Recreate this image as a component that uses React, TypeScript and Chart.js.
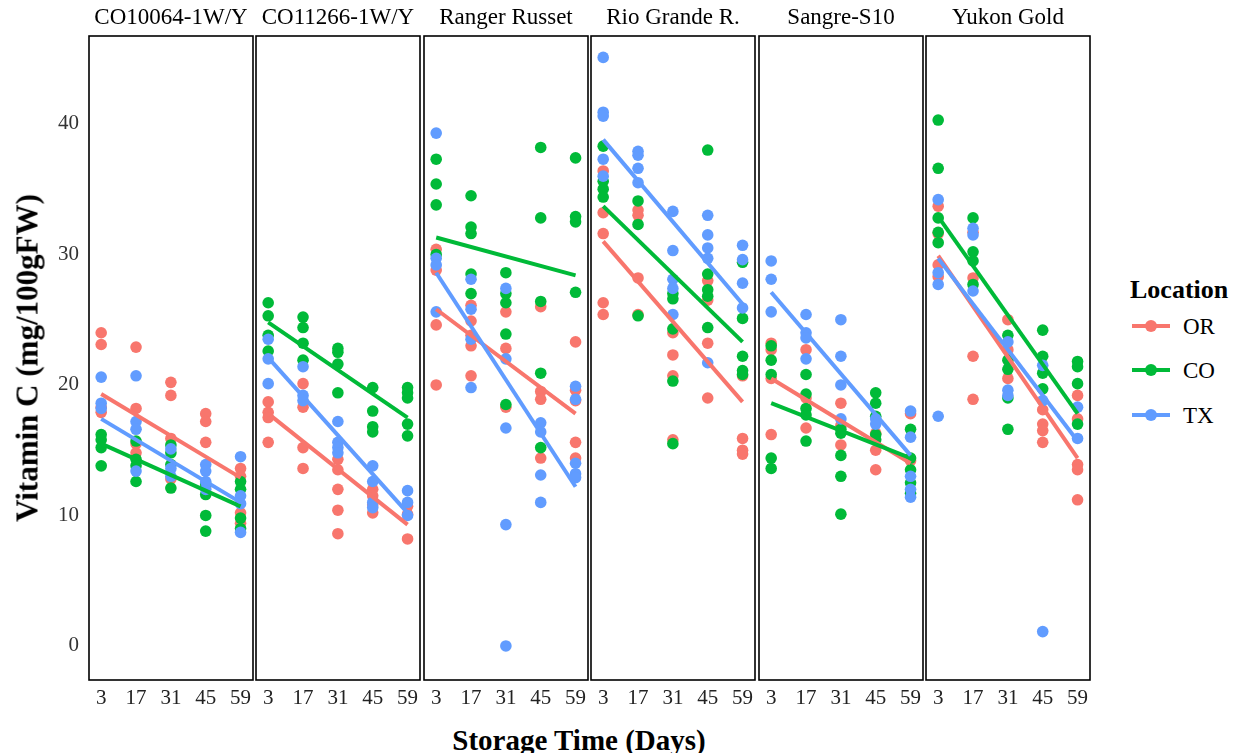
import React, { useEffect, useRef } from "react";
import { Chart, registerables } from "chart.js";

Chart.register(...registerables);

const DAYS = [3, 17, 31, 45, 59];
const LOCATIONS = ["OR", "CO", "TX"];
const COLORS = ["#F8766D", "#00BA38", "#619CFF"];
const VARIETIES = ["CO10064-1W/Y", "CO11266-1W/Y", "Ranger Russet", "Rio Grande R.", "Sangre-S10", "Yukon Gold"];
const Y_TICKS = [0, 10, 20, 30, 40];
const Y_TITLE = "Vitamin C (mg/100gFW)";
const X_TITLE = "Storage Time (Days)";
const LEGEND_TITLE = "Location";

// values per storage day (3, 17, 31, 45, 59)
const co10064OR = [[24.0, 23.1, 18.3, 17.9], [22.9, 18.2, 15.5, 14.8], [20.2, 19.2, 15.9, 12.8], [17.8, 17.2, 15.6, 12.2], [13.6, 13.0, 10.2, 9.4]];
const co10064CO = [[16.2, 15.8, 15.2, 13.8], [15.7, 14.3, 13.8, 12.6], [15.4, 14.8, 13.9, 12.1], [12.4, 11.6, 10.0, 8.8], [12.6, 12.0, 9.8, 9.0]];
const co10064TX = [[20.6, 18.6, 18.2], [20.7, 17.2, 16.6, 13.4], [15.1, 13.6, 13.0], [13.9, 13.4, 12.6, 12.0], [14.5, 11.5, 10.9, 8.7]];

const co11266OR = [[18.7, 17.9, 17.5, 15.6], [20.1, 18.3, 15.2, 13.6], [14.3, 13.5, 12.0, 10.4, 8.6], [12.0, 11.5, 10.8, 10.2], [10.7, 10.1, 8.2]];
const co11266CO = [[26.3, 25.3, 23.8, 22.6], [25.2, 24.4, 23.2, 21.9], [22.8, 22.5, 21.6, 19.4], [19.8, 18.0, 16.8, 16.4], [19.8, 19.4, 19.0, 17.0, 16.1]];
const co11266TX = [[23.5, 22.0, 20.1], [21.4, 19.2, 18.8], [17.2, 15.6, 15.2, 14.8], [13.8, 12.6, 11.0, 10.6], [11.9, 11.0, 10.0]];

const rangerOR = [[30.4, 28.8, 24.6, 20.0], [26.1, 24.9, 23.8, 23.0, 20.7], [25.6, 22.8, 18.3], [26.0, 19.5, 18.9, 14.4], [23.3, 19.6, 18.8, 15.6, 14.4]];
const rangerCO = [[37.3, 35.4, 33.8, 30.0], [34.5, 32.1, 31.6, 28.5, 27.0], [28.6, 27.0, 26.3, 23.9, 18.5], [38.2, 32.8, 26.4, 20.9, 15.2], [37.4, 32.9, 32.5, 27.1]];
const rangerTX = [[39.3, 29.7, 29.2, 25.6], [28.1, 25.8, 23.5, 19.8], [27.4, 22.0, 16.7, 9.3, 0.0], [17.1, 16.4, 13.1, 11.0], [19.9, 18.9, 14.0, 13.2, 12.9]];

const rioOR = [[36.4, 33.2, 31.6, 26.3, 25.4], [33.4, 33.0, 28.2, 25.4], [24.0, 22.3, 20.7, 15.8], [28.0, 26.5, 23.2, 19.0], [20.7, 15.9, 15.0, 14.7]];
const rioCO = [[38.3, 35.6, 35.0, 34.4], [34.1, 32.3, 25.3], [27.0, 26.6, 24.3, 20.3, 15.5], [38.0, 28.5, 27.3, 26.8, 24.4], [29.4, 25.1, 22.2, 21.1, 20.8]];
const rioTX = [[45.1, 40.9, 40.6, 37.3, 36.0], [37.9, 37.6, 36.6, 35.5], [33.3, 30.3, 28.1, 27.4, 25.4], [33.0, 31.5, 30.5, 29.7, 21.7], [30.7, 29.6, 27.8, 25.9]];

const sangreOR = [[23.2, 22.7, 20.5, 16.2], [22.7, 19.0, 16.7], [18.6, 16.9, 15.4], [16.3, 15.0, 13.5], [17.8, 14.2]];
const sangreCO = [[23.0, 21.9, 20.8, 14.4, 13.6], [20.8, 19.3, 18.2, 17.7, 15.7], [16.6, 16.3, 14.6, 13.0, 10.1], [19.4, 18.6, 17.6, 16.2, 15.8], [16.6, 14.4, 13.5, 12.5, 11.7]];
const sangreTX = [[29.5, 28.1, 25.6], [25.4, 24.0, 23.6, 22.0], [25.0, 22.2, 20.0, 17.4], [17.4, 17.0], [18.0, 16.0, 13.0, 12.0, 11.4]];

const yukonOR = [[33.7, 31.6, 29.2, 28.3], [31.7, 28.2, 22.2, 18.9], [25.0, 22.7, 20.5], [18.1, 17.0, 16.5, 15.6], [19.2, 17.4, 13.9, 13.5, 11.2]];
const yukonCO = [[40.3, 36.6, 32.8, 31.7, 30.9], [32.8, 30.2, 29.5, 27.7], [23.8, 21.9, 21.2, 19.0, 16.6], [24.2, 22.2, 20.9, 19.7], [21.8, 21.4, 20.1, 17.0]];
const yukonTX = [[34.2, 28.6, 27.7, 17.6], [32.0, 31.5, 27.2], [23.3, 19.6, 19.2], [21.5, 18.8, 1.1], [18.3, 15.9]];

// fitted line values at day 3 and day 59, order OR, CO, TX
const co10064Fit = [[19.3, 12.9], [15.5, 10.7], [17.4, 11.0]];
const co11266Fit = [[17.8, 9.3], [24.8, 17.5], [22.1, 10.2]];
const rangerFit = [[25.8, 17.8], [31.3, 28.4], [28.6, 12.2]];
const rioFit = [[31.0, 18.7], [33.7, 23.3], [38.8, 26.2]];
const sangreFit = [[20.5, 14.0], [18.6, 14.4], [27.1, 14.6]];
const yukonFit = [[29.9, 14.4], [32.9, 17.8], [29.7, 15.7]];

const POINTS = [
  [co10064OR, co10064CO, co10064TX],
  [co11266OR, co11266CO, co11266TX],
  [rangerOR, rangerCO, rangerTX],
  [rioOR, rioCO, rioTX],
  [sangreOR, sangreCO, sangreTX],
  [yukonOR, yukonCO, yukonTX],
];
const FITS = [co10064Fit, co11266Fit, rangerFit, rioFit, sangreFit, yukonFit];

const FONT = '"Liberation Serif", "Times New Roman", serif';
const PANEL_LEFT0 = 89;
const PANEL_STEP = 167.4;
const PANEL_W = 164;
const CANVAS_H = 720;
const Y_MIN = -2.61;
const Y_MAX = 46.74;

const panelDeco = {
  id: "panelDeco",
  afterDatasetsDraw(chart: any, _args: any, opts: any) {
    const { ctx, chartArea: a } = chart;
    ctx.save();
    ctx.strokeStyle = "#000";
    ctx.lineWidth = 1.6;
    ctx.strokeRect(a.left, a.top, a.right - a.left, a.bottom - a.top);
    ctx.fillStyle = "#000";
    ctx.font = `23px ${FONT}`;
    ctx.textAlign = "center";
    ctx.textBaseline = "middle";
    ctx.fillText(opts.label, (a.left + a.right) / 2, 18);
    ctx.restore();
  },
};

function Panel({ index }: { index: number }) {
  const ref = useRef<HTMLCanvasElement | null>(null);
  const first = index === 0;
  const panelLeft = PANEL_LEFT0 + index * PANEL_STEP;
  const canvasLeft = first ? 0 : panelLeft - 3;
  const canvasW = first ? PANEL_LEFT0 + PANEL_W + 3 : PANEL_W + 6;

  useEffect(() => {
    if (!ref.current) return;
    const datasets: any[] = [];
    LOCATIONS.forEach((loc, li) => {
      const pts: { x: number; y: number }[] = [];
      POINTS[index][li].forEach((vals, di) => vals.forEach((v) => pts.push({ x: DAYS[di], y: v })));
      datasets.push({
        type: "scatter",
        label: loc,
        data: pts,
        backgroundColor: COLORS[li],
        borderWidth: 0,
        pointRadius: 5.8,
        pointHoverRadius: 5.8,
        order: 3 - li,
      });
      const fit = FITS[index][li];
      datasets.push({
        type: "line",
        label: loc + " fit",
        data: [
          { x: DAYS[0], y: fit[0] },
          { x: DAYS[DAYS.length - 1], y: fit[1] },
        ],
        borderColor: COLORS[li],
        borderWidth: 4,
        pointRadius: 0,
        fill: false,
        order: -1 - li,
      });
    });

    const chart = new Chart(ref.current, {
      type: "scatter",
      data: { datasets },
      plugins: [panelDeco],
      options: {
        animation: false,
        responsive: false,
        maintainAspectRatio: false,
        devicePixelRatio: 1,
        layout: { autoPadding: false, padding: { left: first ? 0 : 3, right: 3, top: 36, bottom: 0 } },
        plugins: {
          legend: { display: false },
          tooltip: { enabled: false },
          panelDeco: { label: VARIETIES[index] },
        } as any,
        scales: {
          x: {
            type: "linear",
            min: -1.9,
            max: 64,
            afterBuildTicks: (s: any) => {
              s.ticks = DAYS.map((v) => ({ value: v }));
            },
            afterFit: (s: any) => {
              s.height = 40;
              s.paddingLeft = 0;
              s.paddingRight = 0;
            },
            ticks: {
              font: { family: FONT, size: 21 },
              color: "#222",
              padding: 6,
              maxRotation: 0,
              autoSkip: false,
            },
            grid: { display: false, drawTicks: false },
            border: { display: false },
          },
          y: {
            type: "linear",
            min: Y_MIN,
            max: Y_MAX,
            display: first,
            afterBuildTicks: (s: any) => {
              s.ticks = Y_TICKS.map((v) => ({ value: v }));
            },
            afterFit: (s: any) => {
              s.width = first ? PANEL_LEFT0 : 0;
              s.paddingTop = 0;
              s.paddingBottom = 0;
            },
            ticks: {
              font: { family: FONT, size: 21 },
              color: "#333",
              padding: 10,
            },
            grid: { display: false, drawTicks: false },
            border: { display: false },
          },
        },
      } as any,
    });
    return () => chart.destroy();
  }, [index]);

  return (
    <canvas
      ref={ref}
      width={canvasW}
      height={CANVAS_H}
      style={{ position: "absolute", left: canvasLeft, top: 0, width: canvasW, height: CANVAS_H }}
    />
  );
}

export default function App() {
  const legendRows = [326, 370, 415];
  return (
    <div style={{ position: "absolute", left: 0, top: 0, width: 1237, height: 753, background: "#fff", overflow: "hidden" }}>
      {VARIETIES.map((_, i) => (
        <Panel key={i} index={i} />
      ))}
      <div
        style={{
          position: "absolute",
          left: 27,
          top: 358,
          transform: "translate(-50%, -50%) rotate(-90deg)",
          whiteSpace: "nowrap",
          fontFamily: FONT,
          fontWeight: "bold",
          fontSize: 31,
          lineHeight: "31px",
          color: "#000",
        }}
      >
        {Y_TITLE}
      </div>
      <div
        style={{
          position: "absolute",
          left: 579,
          top: 740,
          transform: "translate(-50%, -50%)",
          whiteSpace: "nowrap",
          fontFamily: FONT,
          fontWeight: "bold",
          fontSize: 29,
          lineHeight: "29px",
          color: "#000",
        }}
      >
        {X_TITLE}
      </div>
      <div
        style={{
          position: "absolute",
          left: 1130,
          top: 290,
          transform: "translateY(-50%)",
          whiteSpace: "nowrap",
          fontFamily: FONT,
          fontWeight: "bold",
          fontSize: 26,
          lineHeight: "26px",
          color: "#000",
        }}
      >
        {LEGEND_TITLE}
      </div>
      {LOCATIONS.map((loc, i) => (
        <React.Fragment key={loc}>
          <div
            style={{
              position: "absolute",
              left: 1132,
              top: legendRows[i] - 2,
              width: 38,
              height: 4,
              background: COLORS[i],
            }}
          />
          <div
            style={{
              position: "absolute",
              left: 1151 - 6,
              top: legendRows[i] - 6,
              width: 12,
              height: 12,
              borderRadius: 6,
              background: COLORS[i],
            }}
          />
          <div
            style={{
              position: "absolute",
              left: 1183,
              top: legendRows[i],
              transform: "translateY(-50%)",
              whiteSpace: "nowrap",
              fontFamily: FONT,
              fontSize: 23,
              lineHeight: "23px",
              color: "#000",
            }}
          >
            {loc}
          </div>
        </React.Fragment>
      ))}
    </div>
  );
}
